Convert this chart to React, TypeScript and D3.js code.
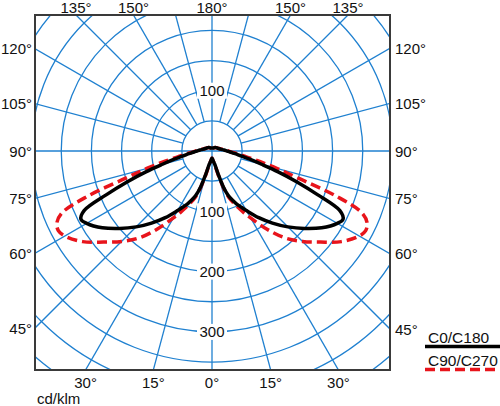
import React, { useEffect, useRef } from "react";
import * as d3 from "d3";

// gamma angles (deg from nadir) and intensities in cd/klm
const GAMMA = [
  0, 2.5, 5, 7.5, 10, 12.5, 15, 17.5, 20, 22.5, 25, 27.5, 30, 35, 40, 45, 50,
  55, 60, 62.5, 65, 67.5, 70, 72.5, 75, 77.5, 80, 82.5, 85, 87.5, 90, 95, 100,
  110, 120, 135, 150, 165, 180,
];
const C0_C180 = [
  12, 13, 15, 17, 20, 25, 40, 62, 78, 88, 97, 105, 114, 135, 156, 178, 200,
  222, 240, 245, 234, 190, 150, 115, 85, 65, 50, 42, 34, 29, 25, 20, 16, 12,
  10, 8, 6, 5, 5,
];
const C90_C270 = [
  12, 13, 15, 17, 21, 27, 43, 65, 82, 93, 104, 116, 128, 158, 188, 212, 235,
  262, 282, 287, 284, 270, 220, 150, 112, 82, 60, 48, 38, 31, 27, 21, 17, 12,
  10, 8, 6, 5, 5,
];

const SPOKES = d3.range(0, 360, 15);
const RINGS = d3.range(50, 550, 50);
const ANGLE_LABELS = [0, 15, 30, 45, 60, 75, 90, 105, 120, 135, 150, 180];
const RING_LABELS_DOWN = [100, 200, 300];
const RING_LABELS_UP = [100];
const SERIES = ["C0/C180", "C90/C270"];

export default function App() {
  const svgRef = useRef<SVGSVGElement | null>(null);

  useEffect(() => {
    if (!svgRef.current) return;
    const svg = d3.select(svgRef.current);
    svg.selectAll("*").remove();

    const frame = { left: 35, right: 390, top: 15, bottom: 370 };
    const cx = 212;
    const cy = 151;
    const r = d3.scaleLinear().domain([0, 100]).range([0, 60.3]);
    const grid = "#1f80d0";
    const font = "'Liberation Sans', Arial, sans-serif";

    svg
      .append("defs")
      .append("clipPath")
      .attr("id", "frame-clip")
      .append("rect")
      .attr("x", frame.left)
      .attr("y", frame.top)
      .attr("width", frame.right - frame.left)
      .attr("height", frame.bottom - frame.top);

    const g = svg.append("g").attr("clip-path", "url(#frame-clip)");
    const c = g.append("g").attr("transform", `translate(${cx},${cy})`);

    c.selectAll(".ring")
      .data(RINGS)
      .enter()
      .append("circle")
      .attr("r", (d) => r(d))
      .attr("fill", "none")
      .attr("stroke", grid)
      .attr("stroke-width", 1.3);

    c.selectAll(".spoke")
      .data(SPOKES)
      .enter()
      .append("line")
      .each(function (d) {
        const a = (d * Math.PI) / 180;
        const r0 = d % 90 === 0 ? 0 : r(50);
        const [x0, y0] = d3.pointRadial(a, r0);
        const [x1, y1] = d3.pointRadial(a, r(600));
        d3.select(this)
          .attr("x1", x0)
          .attr("y1", y0)
          .attr("x2", x1)
          .attr("y2", y1);
      })
      .attr("stroke", grid)
      .attr("stroke-width", 1.3);

    // ring value labels on the vertical axis
    const ringLabels = [
      ...RING_LABELS_DOWN.map((v) => ({ v, y: r(v) })),
      ...RING_LABELS_UP.map((v) => ({ v, y: -r(v) })),
    ];
    const rl = c.selectAll(".rl").data(ringLabels).enter().append("g");
    rl.append("rect")
      .attr("x", -15)
      .attr("y", (d) => d.y - 8)
      .attr("width", 30)
      .attr("height", 16)
      .attr("fill", "#fff");
    rl.append("text")
      .attr("x", 0)
      .attr("y", (d) => d.y + 5.5)
      .attr("text-anchor", "middle")
      .style("font-family", font)
      .style("font-size", "15px")
      .attr("fill", "#111")
      .text((d) => d.v);

    // curves: left half from zenith down to nadir, right half back up
    const toPoints = (vals: number[]) => {
      const pts: [number, number][] = [];
      for (let i = GAMMA.length - 1; i >= 0; i--)
        pts.push(d3.pointRadial(Math.PI + (GAMMA[i] * Math.PI) / 180, r(vals[i])));
      for (let i = 1; i < GAMMA.length - 1; i++)
        pts.push(d3.pointRadial(Math.PI - (GAMMA[i] * Math.PI) / 180, r(vals[i])));
      return pts;
    };
    const line = d3.line().curve(d3.curveCatmullRomClosed.alpha(0.5));

    c.append("path")
      .attr("d", line(toPoints(C90_C270)))
      .attr("fill", "none")
      .attr("stroke", "#e8141b")
      .attr("stroke-width", 3.5)
      .attr("stroke-dasharray", "10,5");

    c.append("path")
      .attr("d", line(toPoints(C0_C180)))
      .attr("fill", "none")
      .attr("stroke", "#000")
      .attr("stroke-width", 3.5);

    svg
      .append("rect")
      .attr("x", frame.left)
      .attr("y", frame.top)
      .attr("width", frame.right - frame.left)
      .attr("height", frame.bottom - frame.top)
      .attr("fill", "none")
      .attr("stroke", "#3a3a3a")
      .attr("stroke-width", 2);

    // angle labels where spokes meet the frame
    const labels: { x: number; y: number; anchor: string; text: string }[] = [];
    ANGLE_LABELS.forEach((gam) => {
      const sides = gam === 0 || gam === 180 ? [1] : [-1, 1];
      sides.forEach((s) => {
        const a = (gam * Math.PI) / 180;
        const dx = s * Math.sin(a);
        const dy = Math.cos(a);
        const ts: number[] = [];
        if (dx > 1e-6) ts.push((frame.right - cx) / dx);
        if (dx < -1e-6) ts.push((frame.left - cx) / dx);
        if (dy > 1e-6) ts.push((frame.bottom - cy) / dy);
        if (dy < -1e-6) ts.push((frame.top - cy) / dy);
        const t = Math.min(...ts);
        const x = cx + dx * t;
        const y = cy + dy * t;
        const text = `${gam}°`;
        if (Math.abs(x - frame.left) < 0.5) labels.push({ x: x - 3, y: y + 5.5, anchor: "end", text });
        else if (Math.abs(x - frame.right) < 0.5) labels.push({ x: x + 5, y: y + 5.5, anchor: "start", text });
        else if (Math.abs(y - frame.top) < 0.5) labels.push({ x, y: y - 2, anchor: "middle", text });
        else labels.push({ x, y: y + 18, anchor: "middle", text });
      });
    });

    svg
      .selectAll(".al")
      .data(labels)
      .enter()
      .append("text")
      .attr("x", (d) => d.x)
      .attr("y", (d) => d.y)
      .attr("text-anchor", (d) => d.anchor)
      .style("font-family", font)
      .style("font-size", "15px")
      .attr("fill", "#111")
      .text((d) => d.text);

    svg
      .append("text")
      .attr("x", 37)
      .attr("y", 404)
      .style("font-family", font)
      .style("font-size", "15px")
      .attr("fill", "#111")
      .text("cd/klm");

    // legend
    const legend = svg.append("g");
    SERIES.forEach((name, i) => {
      const y = 343 + i * 23;
      legend
        .append("text")
        .attr("x", 428)
        .attr("y", y)
        .style("font-family", font)
        .style("font-size", "15.5px")
        .attr("fill", "#111")
        .text(name);
      legend
        .append("line")
        .attr("x1", 425)
        .attr("x2", 500)
        .attr("y1", y + 3.5)
        .attr("y2", y + 3.5)
        .attr("stroke", i === 0 ? "#000" : "#e8141b")
        .attr("stroke-width", 3.5)
        .attr("stroke-dasharray", i === 0 ? null : "10,5");
    });
  }, []);

  return (
    <svg
      ref={svgRef}
      width={500}
      height={406}
      style={{ position: "absolute", left: 0, top: 0, background: "#fff" }}
    ></svg>
  );
}
